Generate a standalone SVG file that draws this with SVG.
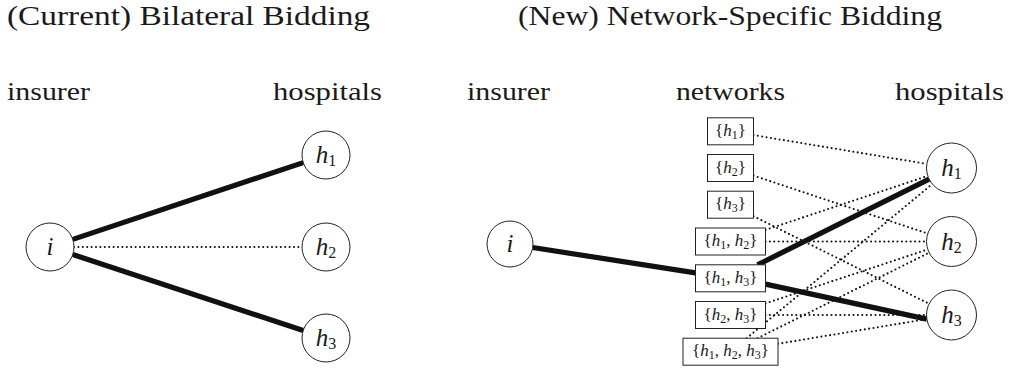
<svg xmlns="http://www.w3.org/2000/svg" width="1011" height="371" viewBox="0 0 1011 371" font-family="'Liberation Serif', 'Times New Roman', Times, serif">
<style>
.ttl{font-size:27px;fill:#1a1a1a}
.lbl{font-size:26px;fill:#1a1a1a}
.nl{font-size:25px;text-anchor:middle;fill:#1a1a1a}
.bl{font-size:17px;text-anchor:middle;fill:#1a1a1a}
.it{font-style:italic}
.sb{font-size:16px}
.bsb{font-size:12px}
.node{fill:#fff;stroke:#222;stroke-width:1}
.thick{stroke:#111;stroke-width:5.2;fill:none}
.dot{stroke:#111;stroke-width:2.1;fill:none;stroke-dasharray:0 4.4;stroke-linecap:round}
</style>
<rect width="1011" height="371" fill="#fff"/>
<g id="titles" font-family="Liberation Serif">
<text class="ttl" x="7" y="25" textLength="363" lengthAdjust="spacingAndGlyphs">(Current) Bilateral Bidding</text>
<text class="ttl" x="518" y="25" textLength="424" lengthAdjust="spacingAndGlyphs">(New) Network-Specific Bidding</text>
<text class="lbl" x="7" y="100" textLength="83" lengthAdjust="spacingAndGlyphs">insurer</text>
<text class="lbl" x="273" y="100" textLength="109" lengthAdjust="spacingAndGlyphs">hospitals</text>
<text class="lbl" x="467" y="100" textLength="83" lengthAdjust="spacingAndGlyphs">insurer</text>
<text class="lbl" x="676" y="100" textLength="109" lengthAdjust="spacingAndGlyphs">networks</text>
<text class="lbl" x="895" y="100" textLength="109" lengthAdjust="spacingAndGlyphs">hospitals</text>
</g>
<g id="connectors">
<line class="thick" x1="72.8" y1="239.4" x2="303.2" y2="162.6"/>
<line class="dot" x1="74" y1="247" x2="302" y2="247"/>
<line class="thick" x1="72.8" y1="254.5" x2="303.2" y2="330.5"/>
<line class="thick" x1="532.7" y1="247.5" x2="695.5" y2="272.9"/>
<line class="dot" x1="753.5" y1="135.1" x2="926.8" y2="163.9"/>
<line class="dot" x1="753.5" y1="175.6" x2="927.8" y2="233.6"/>
<line class="dot" x1="753.5" y1="216.2" x2="929.1" y2="303.8"/>
<line class="dot" x1="765.5" y1="229.9" x2="927.8" y2="175.9"/>
<line class="dot" x1="765.5" y1="241.5" x2="926.5" y2="241.5"/>
<line class="thick" x1="757.5" y1="264.8" x2="929.1" y2="179.2"/>
<line class="thick" x1="765.5" y1="284.1" x2="926.8" y2="319.1"/>
<line class="dot" x1="765.5" y1="303.4" x2="927.8" y2="249.4"/>
<line class="dot" x1="765.5" y1="315" x2="926.5" y2="315"/>
<line class="dot" x1="746.7" y1="338.2" x2="932.3" y2="184"/>
<line class="dot" x1="757.6" y1="338.2" x2="929.1" y2="252.7"/>
<line class="dot" x1="778" y1="343.8" x2="926.8" y2="319.1"/>
</g>
<g id="L-i"><circle class="node" cx="50" cy="247" r="24"/><text class="nl it" x="50" y="255">i</text></g>
<g id="L-h1"><circle class="node" cx="326" cy="155" r="24"/><text class="nl" x="326" y="163"><tspan class="it">h</tspan><tspan class="sb" dy="3">1</tspan></text></g>
<g id="L-h2"><circle class="node" cx="326" cy="247" r="24"/><text class="nl" x="326" y="255"><tspan class="it">h</tspan><tspan class="sb" dy="3">2</tspan></text></g>
<g id="L-h3"><circle class="node" cx="326" cy="338" r="24"/><text class="nl" x="326" y="346"><tspan class="it">h</tspan><tspan class="sb" dy="3">3</tspan></text></g>
<g id="R-i"><circle class="node" cx="510" cy="244" r="23"/><text class="nl it" x="510" y="252">i</text></g>
<g id="R-h1"><circle class="node" cx="951.5" cy="168" r="25"/><text class="nl" x="951.5" y="176"><tspan class="it">h</tspan><tspan class="sb" dy="3">1</tspan></text></g>
<g id="R-h2"><circle class="node" cx="951.5" cy="241.5" r="25"/><text class="nl" x="951.5" y="249.5"><tspan class="it">h</tspan><tspan class="sb" dy="3">2</tspan></text></g>
<g id="R-h3"><circle class="node" cx="951.5" cy="315" r="25"/><text class="nl" x="951.5" y="323"><tspan class="it">h</tspan><tspan class="sb" dy="3">3</tspan></text></g>
<g id="N-h1"><rect class="node" x="707.5" y="117.8" width="46" height="27"/><text class="bl" x="730.5" y="135.8">{<tspan class="it">h</tspan><tspan class="bsb" dy="3">1</tspan><tspan dy="-3">}</tspan></text></g>
<g id="N-h2"><rect class="node" x="707.5" y="154.5" width="46" height="27"/><text class="bl" x="730.5" y="172.5">{<tspan class="it">h</tspan><tspan class="bsb" dy="3">2</tspan><tspan dy="-3">}</tspan></text></g>
<g id="N-h3"><rect class="node" x="707.5" y="191.2" width="46" height="27"/><text class="bl" x="730.5" y="209.2">{<tspan class="it">h</tspan><tspan class="bsb" dy="3">3</tspan><tspan dy="-3">}</tspan></text></g>
<g id="N-h1h2"><rect class="node" x="695.5" y="228" width="70" height="27"/><text class="bl" x="730.5" y="246">{<tspan class="it">h</tspan><tspan class="bsb" dy="3">1</tspan><tspan dy="-3">, </tspan><tspan class="it">h</tspan><tspan class="bsb" dy="3">2</tspan><tspan dy="-3">}</tspan></text></g>
<g id="N-h1h3"><rect class="node" x="695.5" y="264.8" width="70" height="27"/><text class="bl" x="730.5" y="282.8">{<tspan class="it">h</tspan><tspan class="bsb" dy="3">1</tspan><tspan dy="-3">, </tspan><tspan class="it">h</tspan><tspan class="bsb" dy="3">3</tspan><tspan dy="-3">}</tspan></text></g>
<g id="N-h2h3"><rect class="node" x="695.5" y="301.5" width="70" height="27"/><text class="bl" x="730.5" y="319.5">{<tspan class="it">h</tspan><tspan class="bsb" dy="3">2</tspan><tspan dy="-3">, </tspan><tspan class="it">h</tspan><tspan class="bsb" dy="3">3</tspan><tspan dy="-3">}</tspan></text></g>
<g id="N-h1h2h3"><rect class="node" x="683" y="338.2" width="95" height="27"/><text class="bl" x="730.5" y="356.2">{<tspan class="it">h</tspan><tspan class="bsb" dy="3">1</tspan><tspan dy="-3">, </tspan><tspan class="it">h</tspan><tspan class="bsb" dy="3">2</tspan><tspan dy="-3">, </tspan><tspan class="it">h</tspan><tspan class="bsb" dy="3">3</tspan><tspan dy="-3">}</tspan></text></g>
</svg>
